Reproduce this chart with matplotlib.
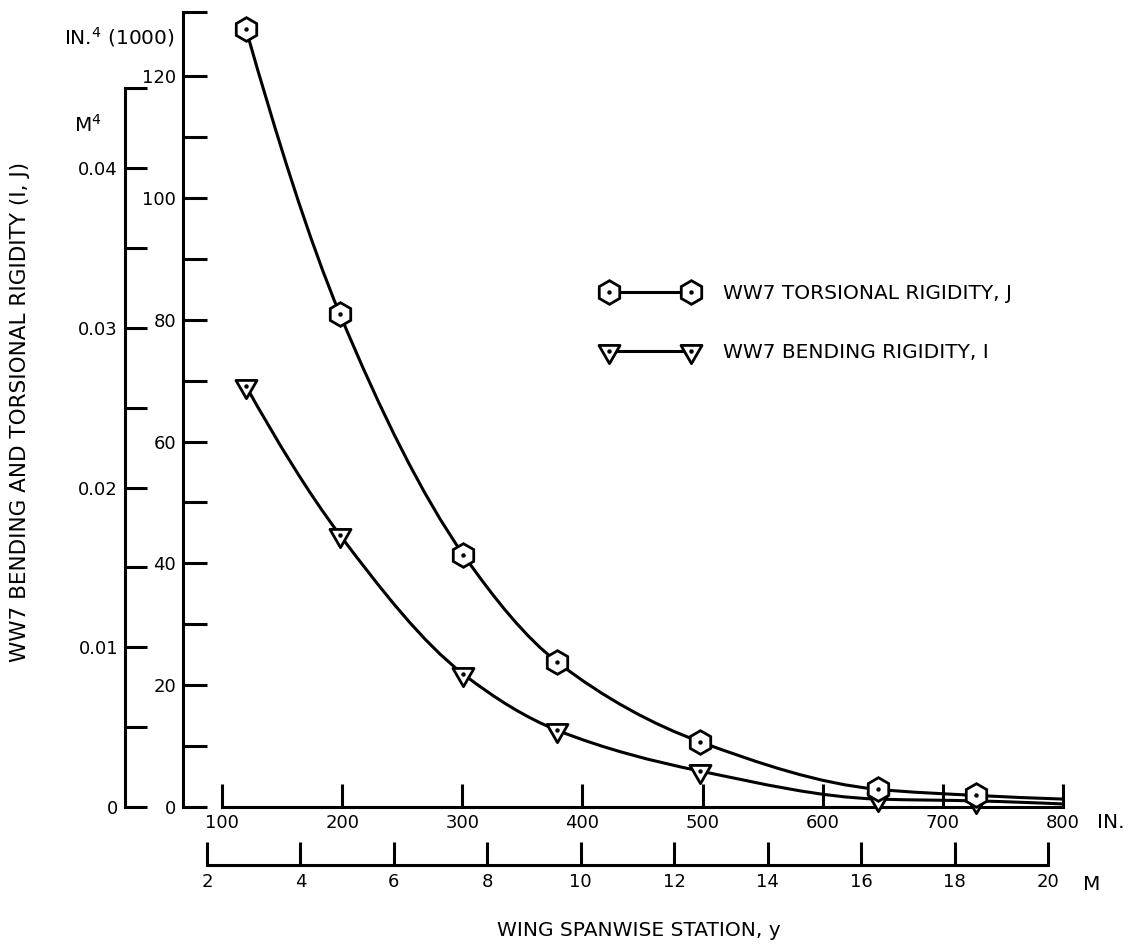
import numpy as np
import matplotlib
matplotlib.use("Agg")
import matplotlib.pyplot as plt
from matplotlib.path import Path
from matplotlib.patches import PathPatch
from matplotlib.lines import Line2D
from matplotlib.legend_handler import HandlerTuple, HandlerLine2D

plt.rcParams['font.family'] = ['DejaVu Sans']
plt.rcParams['font.size'] = 13

# ---------------- data ----------------
station_in = [120, 198, 301, 379, 498, 646, 728]          # wing spanwise station, inches
torsional_J = [127.7, 81.0, 41.4, 23.8, 10.7, 2.9, 1.9]   # in^4 (x1000)
bending_I = [69.1, 44.7, 21.8, 12.6, 5.9, 1.3, 1.0]       # in^4 (x1000)
curve_end_in = 800
torsional_J_end = 1.3
bending_I_end = 0.5

in_ticks = [100, 200, 300, 400, 500, 600, 700, 800]
in4_major = [0, 20, 40, 60, 80, 100, 120]
in4_minor = [10, 30, 50, 70, 90, 110, 130.5]
m4_major = [0, 0.01, 0.02, 0.03, 0.04]
m4_labels = ['0', '0.01', '0.02', '0.03', '0.04']
m4_minor = [0.005, 0.015, 0.025, 0.035, 0.045]
m_ticks = [2, 4, 6, 8, 10, 12, 14, 16, 18, 20]

label_J = 'WW7 TORSIONAL RIGIDITY, J'
label_I = 'WW7 BENDING RIGIDITY, I'

# ---------------- layout (pixels) ----------------
W, H = 1138, 944
DPI = 100
def px2pt(p):
    return p * 72.0 / DPI

TXT = 14.5   # font size of the captions / legend
TCK = 13     # font size of tick labels

AX_L, AX_R, AX_T, AX_B = 183, 1070, 12, 807
X100, X800 = 222, 1063
in_per_px = (800 - 100) / (X800 - X100)
Y_PER_UNIT = 6.09        # px per 1000 in^4
M4_PX = 15970.0          # px per m^4
M2_PX, M20_PX = 207, 1048
m_per_px = (20 - 2) / (M20_PX - M2_PX)
M_AXIS_Y = 865

fig = plt.figure(figsize=(W / DPI, H / DPI), dpi=DPI)

LW = 2.2
ax = fig.add_axes([AX_L / W, (H - AX_B) / H, (AX_R - AX_L) / W, (AX_B - AX_T) / H])
ax.set_xlim(100 - (X100 - AX_L) * in_per_px, 100 + (AX_R - X100) * in_per_px)
ax.set_ylim(0, (AX_B - AX_T) / Y_PER_UNIT)
for s in ['top', 'right']:
    ax.spines[s].set_visible(False)
ax.spines['left'].set_bounds(0, (AX_B - AX_T) / Y_PER_UNIT)
ax.spines['bottom'].set_bounds(100, 800)
for s in ['left', 'bottom']:
    ax.spines[s].set_linewidth(LW)
ax.set_xticks(in_ticks)
ax.set_xticklabels([str(v) for v in in_ticks])
ax.set_yticks(in4_major)
ax.set_yticklabels([str(v) for v in in4_major])
ax.set_yticks(in4_minor, minor=True)
ax.tick_params(axis='x', direction='in', length=px2pt(23), width=LW, pad=5, labelsize=TCK)
ax.tick_params(axis='y', which='both', direction='in', length=px2pt(24), width=LW, pad=5,
               labelsize=TCK)
ax.tick_params(axis='y', which='minor', labelleft=False)

# second (metric) vertical axis
ax2 = ax.twinx()
ax2.set_ylim(0, (AX_B - AX_T) / M4_PX)
for s in ['top', 'right', 'bottom']:
    ax2.spines[s].set_visible(False)
ax2.spines['left'].set_visible(True)
ax2.spines['left'].set_position(('outward', px2pt(AX_L - 125)))
ax2.spines['left'].set_bounds(0, 0.045)
ax2.spines['left'].set_linewidth(LW)
ax2.yaxis.set_ticks_position('left')
ax2.yaxis.set_label_position('left')
ax2.set_yticks(m4_major)
ax2.set_yticklabels(m4_labels)
ax2.set_yticks(m4_minor, minor=True)
ax2.tick_params(axis='y', which='both', direction='in', length=px2pt(22), width=LW, pad=5,
                left=True, right=False, labelleft=True, labelright=False, labelsize=TCK)
ax2.tick_params(axis='y', which='minor', labelleft=False)

# metric horizontal axis
ax3 = fig.add_axes([AX_L / W, (H - M_AXIS_Y) / H, (AX_R - AX_L) / W, 0.0001])
ax3.set_xlim(2 - (M2_PX - AX_L) * m_per_px, 2 + (AX_R - M2_PX) * m_per_px)
for s in ['top', 'right', 'left']:
    ax3.spines[s].set_visible(False)
ax3.spines['bottom'].set_bounds(2, 20)
ax3.spines['bottom'].set_linewidth(LW)
ax3.set_yticks([])
ax3.set_xticks(m_ticks)
ax3.set_xticklabels([str(v) for v in m_ticks])
ax3.tick_params(axis='x', direction='in', length=px2pt(23), width=LW, pad=6, labelsize=TCK)
ax3.patch.set_visible(False)

# ---------------- curves (monotone cubic drawn as Bezier path) ----------------
def pchip_slopes(x, y):
    x = np.asarray(x, float)
    y = np.asarray(y, float)
    h = np.diff(x)
    d = np.diff(y) / h
    n = len(x)
    m = np.zeros(n)
    for k in range(1, n - 1):
        if d[k - 1] * d[k] > 0:
            w1 = 2 * h[k] + h[k - 1]
            w2 = h[k] + 2 * h[k - 1]
            m[k] = (w1 + w2) / (w1 / d[k - 1] + w2 / d[k])
    def edge(h0, h1, d0, d1):
        e = ((2 * h0 + h1) * d0 - h0 * d1) / (h0 + h1)
        if np.sign(e) != np.sign(d0):
            e = 0.0
        elif np.sign(d0) != np.sign(d1) and abs(e) > abs(3 * d0):
            e = 3 * d0
        return e
    m[0] = edge(h[0], h[1], d[0], d[1])
    m[-1] = edge(h[-1], h[-2], d[-1], d[-2])
    return m

def smooth_path(xs, ys):
    x = np.asarray(xs, float)
    y = np.asarray(ys, float)
    m = pchip_slopes(x, y)
    verts = [(x[0], y[0])]
    codes = [Path.MOVETO]
    for k in range(len(x) - 1):
        hk = x[k + 1] - x[k]
        verts += [(x[k] + hk / 3, y[k] + m[k] * hk / 3),
                  (x[k + 1] - hk / 3, y[k + 1] - m[k + 1] * hk / 3),
                  (x[k + 1], y[k + 1])]
        codes += [Path.CURVE4] * 3
    return Path(verts, codes)

xJ = station_in + [curve_end_in]
yJ = torsional_J + [torsional_J_end]
xI = station_in + [curve_end_in]
yI = bending_I + [bending_I_end]
ax.add_patch(PathPatch(smooth_path(xJ, yJ), fill=False, lw=LW, ec='black', zorder=2,
                       capstyle='round', joinstyle='round'))
ax.add_patch(PathPatch(smooth_path(xI, yI), fill=False, lw=LW, ec='black', zorder=2,
                       capstyle='round', joinstyle='round'))

tri = Path([(-0.866, 0.5), (0.866, 0.5), (0.0, -1.0), (-0.866, 0.5)],
           [Path.MOVETO, Path.LINETO, Path.LINETO, Path.CLOSEPOLY])
hex_kw = dict(marker='h', ms=17, mew=2.0, mfc='white', mec='black')
tri_kw = dict(marker=tri, ms=17.5, mew=2.0, mfc='white', mec='black')
dot_kw = dict(marker='o', ms=3.2, mfc='black', mec='black', mew=0)

ax.plot(station_in, bending_I, ls='none', zorder=3, clip_on=False, **tri_kw)
ax.plot(station_in, bending_I, ls='none', zorder=3.5, clip_on=False, **dot_kw)
ax.plot(station_in, torsional_J, ls='none', zorder=4, clip_on=False, **hex_kw)
ax.plot(station_in, torsional_J, ls='none', zorder=4.5, clip_on=False, **dot_kw)

# ---------------- legend ----------------
hJ = Line2D([], [], color='black', lw=LW, **hex_kw)
hI = Line2D([], [], color='black', lw=LW, **tri_kw)
hd = Line2D([], [], ls='none', **dot_kw)
mpad = 0.6
leg = ax.legend([(hJ, hd), (hI, hd)], [label_J, label_I],
                handler_map={tuple: HandlerTuple(ndivide=1, pad=0),
                             Line2D: HandlerLine2D(marker_pad=mpad)},
                numpoints=2, handlelength=106 * 0.72 / TXT, handletextpad=1.0,
                labelspacing=2.0, frameon=False, borderpad=0, borderaxespad=0,
                fontsize=TXT, loc='upper left', bbox_to_anchor=(597 / W, 1 - 284 / H),
                bbox_transform=fig.transFigure)

# ---------------- texts ----------------
fig.text(175 / W, 1 - 37 / H, 'IN.$^4$ (1000)', ha='right', va='center', fontsize=TXT)
fig.text(74 / W, 1 - 125 / H, 'M$^4$', ha='left', va='center', fontsize=TXT)
fig.text(1111 / W, 1 - 823 / H, 'IN.', ha='center', va='center', fontsize=TXT)
fig.text(1092 / W, 1 - 885 / H, 'M', ha='center', va='center', fontsize=TXT)
fig.text(639 / W, 1 - 930 / H, 'WING SPANWISE STATION, y', ha='center', va='center', fontsize=TXT)
fig.text(20 / W, 1 - 412 / H, 'WW7 BENDING AND TORSIONAL RIGIDITY (I, J)',
         ha='center', va='center', rotation=90, fontsize=15.5)

fig.savefig('out.png', dpi=DPI)
